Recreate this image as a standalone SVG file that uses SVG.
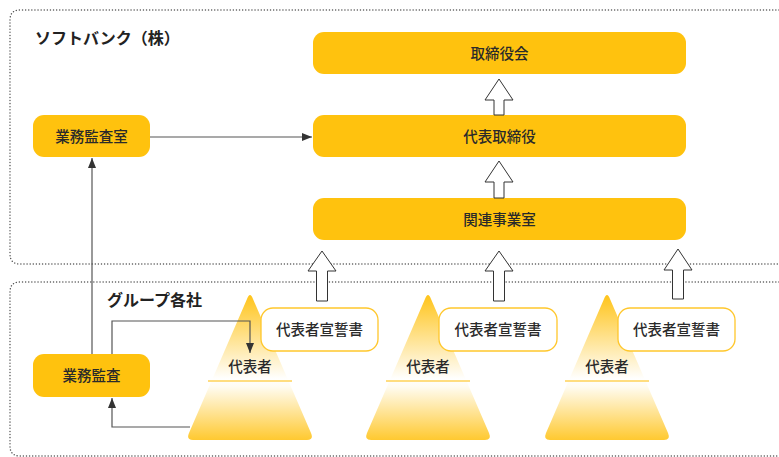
<svg xmlns="http://www.w3.org/2000/svg" width="779" height="457" viewBox="0 0 779 457">
<style>
.region{fill:none;stroke:#555;stroke-width:1.4;stroke-dasharray:0.1 3;stroke-linecap:round}
.box{fill:#FFC20E}
.decl{fill:#fff;stroke:#FFC72C;stroke-width:1.3}
.t{font-family:"Noto Sans CJK JP","Noto Sans",sans-serif;font-size:14.5px;font-weight:500;fill:#2a2a2a;text-anchor:middle}
.title{font-family:"Noto Sans CJK JP","Noto Sans",sans-serif;font-size:16px;font-weight:bold;fill:#222}
.line{fill:none;stroke:#555;stroke-width:1.2}
.hollow{fill:#fff;stroke:#333;stroke-width:1}
.tri{fill:url(#triGrad)}
.div{stroke:#FFD257;stroke-width:1.5}
</style>
<defs>
<linearGradient id="triGrad" x1="0" y1="0" x2="0" y2="1">
<stop offset="0" stop-color="#FFC41A"/>
<stop offset="0.58" stop-color="#FFFFFF"/>
<stop offset="0.63" stop-color="#FFFCF2"/>
<stop offset="1" stop-color="#FFC930"/>
</linearGradient>
<marker id="arr" viewBox="0 0 10 8" refX="10" refY="4" markerWidth="10" markerHeight="8" markerUnits="userSpaceOnUse" orient="auto">
<path d="M0 0 L10 4 L0 8 Z" fill="#333"/>
</marker>
</defs>

<g id="regions">
<path class="region" d="M779 10 H20 Q10 10 10 20 V254 Q10 264 20 264 H779"/>
<path class="region" d="M779 282 H20 Q10 282 10 292 V446 Q10 456 20 456 H779"/>
</g>

<text class="title" x="35" y="44">ソフトバンク（株）</text>
<text class="title" x="107" y="306">グループ各社</text>

<g id="torishimariyakukai">
<rect class="box" x="313" y="32" width="373" height="42" rx="11"/>
<text class="t" x="499.5" y="58.5">取締役会</text>
</g>
<g id="daihyo-torishimariyaku">
<rect class="box" x="313" y="115" width="373" height="42" rx="11"/>
<text class="t" x="499.5" y="141.5">代表取締役</text>
</g>
<g id="kanren-jigyoushitsu">
<rect class="box" x="313" y="198" width="373" height="42" rx="11"/>
<text class="t" x="499.5" y="224.5">関連事業室</text>
</g>
<g id="gyomu-kansashitsu">
<rect class="box" x="33" y="115" width="117" height="42" rx="11"/>
<text class="t" x="91.5" y="141.5">業務監査室</text>
</g>
<g id="gyomu-kansa">
<rect class="box" x="33" y="354" width="117" height="43" rx="11"/>
<text class="t" x="91.5" y="381">業務監査</text>
</g>

<g id="group1">
<path class="tri" d="M247 299 Q250 291 253 299 L311 433 Q314 440 307 440 L193 440 Q186 440 189 433 Z"/>
<line class="div" x1="208" y1="381" x2="292" y2="381"/>
<text class="t" x="250" y="371.5">代表者</text>
</g>
<g id="group2">
<path class="tri" d="M425 299 Q428 291 431 299 L489 433 Q492 440 485 440 L371 440 Q364 440 367 433 Z"/>
<line class="div" x1="386" y1="381" x2="470" y2="381"/>
<text class="t" x="428" y="371.5">代表者</text>
</g>
<g id="group3">
<path class="tri" d="M604 299 Q607 291 610 299 L668 433 Q671 440 664 440 L550 440 Q543 440 546 433 Z"/>
<line class="div" x1="565" y1="381" x2="649" y2="381"/>
<text class="t" x="607" y="371.5">代表者</text>
</g>

<g id="decl1">
<rect class="decl" x="261" y="308" width="117" height="43" rx="12"/>
<text class="t" x="319.5" y="335">代表者宣誓書</text>
</g>
<g id="decl2">
<rect class="decl" x="439" y="308" width="118" height="43" rx="12"/>
<text class="t" x="498" y="335">代表者宣誓書</text>
</g>
<g id="decl3">
<rect class="decl" x="618" y="308" width="117" height="43" rx="12"/>
<text class="t" x="676.5" y="335">代表者宣誓書</text>
</g>

<g id="connectors">
<line class="line" x1="150" y1="137" x2="312" y2="137" marker-end="url(#arr)"/>
<line class="line" x1="92" y1="354" x2="92" y2="158" marker-end="url(#arr)"/>
<path class="line" d="M112 354 V321 H250 V353" marker-end="url(#arr)"/>
<path class="line" d="M190 427 H112 V398" marker-end="url(#arr)"/>
<path class="hollow" d="M499 79 L513 100 L504 100 L504 115 L494 115 L494 100 L485 100 Z"/>
<path class="hollow" d="M499 161 L513 182 L504 182 L504 198 L494 198 L494 182 L485 182 Z"/>
<path class="hollow" d="M322 251 L336 271 L327.5 271 L327.5 301 L316.5 301 L316.5 271 L308 271 Z"/>
<path class="hollow" d="M499 251 L513 271 L504.5 271 L504.5 301 L493.5 301 L493.5 271 L485 271 Z"/>
<path class="hollow" d="M678 249 L692 270 L683.5 270 L683.5 299 L672.5 299 L672.5 270 L664 270 Z"/>
</g>
</svg>
